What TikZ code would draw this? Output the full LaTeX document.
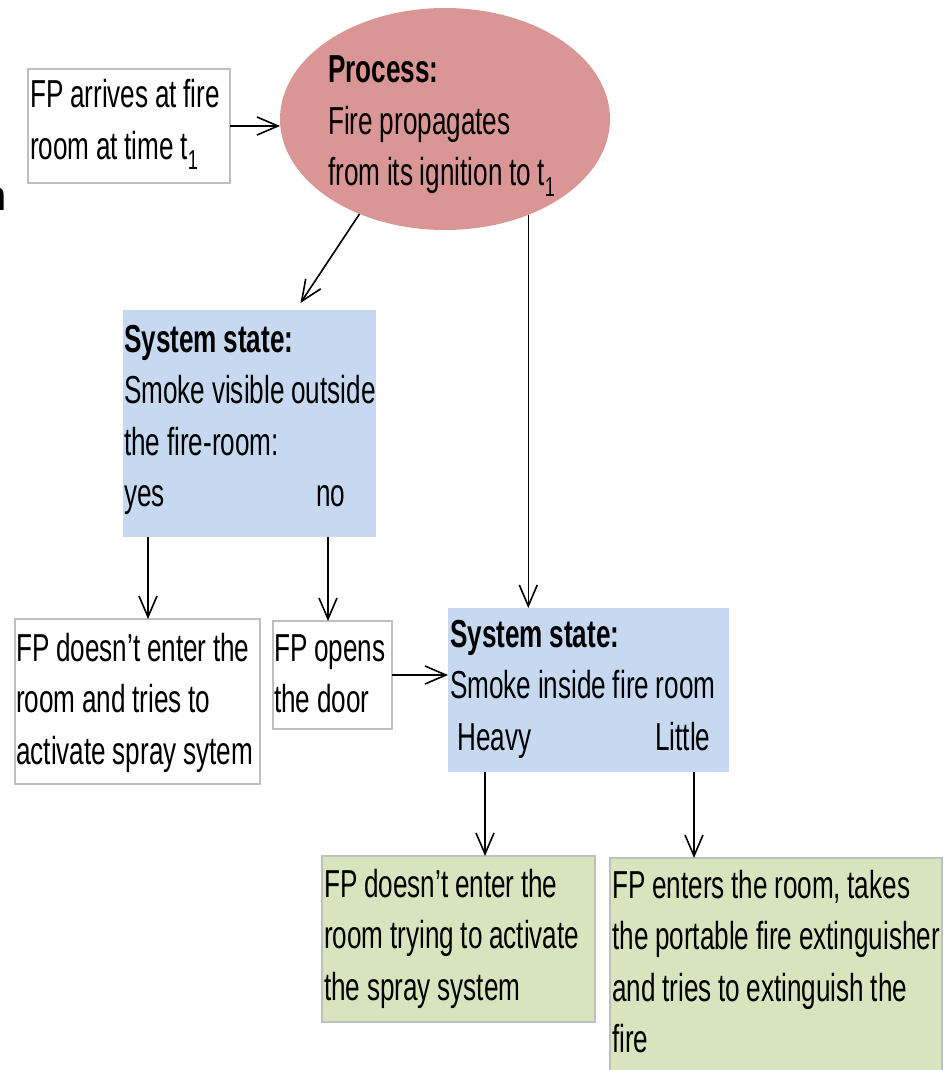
\documentclass[tikz,border=0pt]{standalone}
\usepackage{fontspec}
\setmainfont[FakeStretch=0.67]{Liberation Sans}
\newfontfamily\wideface{Liberation Sans}
\usetikzlibrary{arrows.meta,shapes.geometric}
\definecolor{procfill}{HTML}{D99694}
\definecolor{statefill}{HTML}{C6D9F1}
\definecolor{endfill}{HTML}{D7E4BD}
\definecolor{edgegray}{HTML}{BFBFBF}
\newcommand{\diagfont}{\fontsize{39}{51.5}\selectfont}
\newcommand{\tightspaces}{\setlength{\spaceskip}{6.6pt plus 1pt minus 1pt}\setlength{\xspaceskip}{6.6pt plus 1pt minus 1pt}}
\begin{document}
\begin{tikzpicture}[x=1pt,y=-1pt,
  boxbase/.style={rectangle, inner sep=0pt, outer sep=0pt, anchor=north west},
  plainbox/.style={boxbase, draw=edgegray, line width=1.5pt, fill=white},
  statebox/.style={boxbase, fill=statefill},
  endbox/.style={boxbase, draw=edgegray, line width=1.5pt, fill=endfill},
  procshape/.style={ellipse, fill=procfill, inner sep=0pt, outer sep=0pt},
  txt/.style={text width=420pt, align=left, inner sep=0pt, anchor=base west,
    font=\diagfont, execute at begin node=\tightspaces},
  arr/.style={-{Straight Barb[length=21pt,width=18pt]}, line width=1.6pt, black}
]
\useasboundingbox (0,0) rectangle (951,1070);

% stray fragment at left edge
\node[inner sep=0pt, anchor=base east, font=\wideface\fontsize{42}{50}\selectfont] (frag) at (7,210) {n};

% shapes
\node[plainbox, minimum width=202pt, minimum height=114pt] (A) at (28,69) {};
\node[procshape, minimum width=330pt, minimum height=222pt] (P) at (445,119) {};
\node[statebox, minimum width=253pt, minimum height=227pt] (S1) at (123,310) {};
\node[plainbox, minimum width=245pt, minimum height=165pt] (N1) at (15,619) {};
\node[plainbox, minimum width=119pt, minimum height=108pt] (N2) at (273,621) {};
\node[statebox, minimum width=281pt, minimum height=164pt] (S2) at (448,608) {};
\node[endbox, minimum width=273pt, minimum height=166pt] (G1) at (322,856) {};
\node[endbox, minimum width=332pt, minimum height=240pt] (G2) at (610,858) {};

% texts
\node[txt] (tA) at (30,108) {FP arrives at fire\\room at time t\textsubscript{1}};
\node[txt] (tP) at (328,83) {\textbf{Process:}\\Fire propagates\\from its ignition to t\textsubscript{1}};
\node[txt] (tS1) at (124,352) {\textbf{System state:}\\Smoke visible outside\\the fire-room:\\\makebox[192pt][l]{yes}no};
\node[txt] (tN1) at (16,661) {FP doesn\symbol{39}t enter the\\room and tries to\\activate spray sytem};
\node[txt] (tN2) at (274,661) {FP opens\\the door};
\node[txt] (tS2) at (450,647) {\textbf{System state:}\\Smoke inside fire room\\\hspace*{7pt}\makebox[198pt][l]{Heavy}Little};
\node[txt] (tG1) at (324,897) {FP doesn\symbol{39}t enter the\\room trying to activate\\the spray system};
\node[txt] (tG2) at (612,898) {FP enters the room, takes\\the portable fire extinguisher\\and tries to extinguish the\\fire};

% connectors
\draw[arr] (A.east) -- (A.east -| P.west);
\coordinate (s1in) at ([xshift=51pt,yshift=7pt]S1.north);
\draw[arr] (P.228) -- (s1in);
\draw[arr] (P.-49) -- (P.-49 |- S2.north);
\coordinate (yesout) at ([xshift=25pt]S1.south west);
\coordinate (noout) at ([xshift=-48pt]S1.south east);
\draw[arr] (yesout) -- (yesout |- N1.north);
\draw[arr] (noout) -- (noout |- N2.north);
\draw[arr] (N2.east) -- (N2.east -| S2.west);
\coordinate (heavyout) at ([xshift=37pt]S2.south west);
\coordinate (littleout) at ([xshift=-35pt]S2.south east);
\draw[arr] (heavyout) -- (heavyout |- G1.north);
\draw[arr] (littleout) -- (littleout |- G2.north);
\end{tikzpicture}
\end{document}
